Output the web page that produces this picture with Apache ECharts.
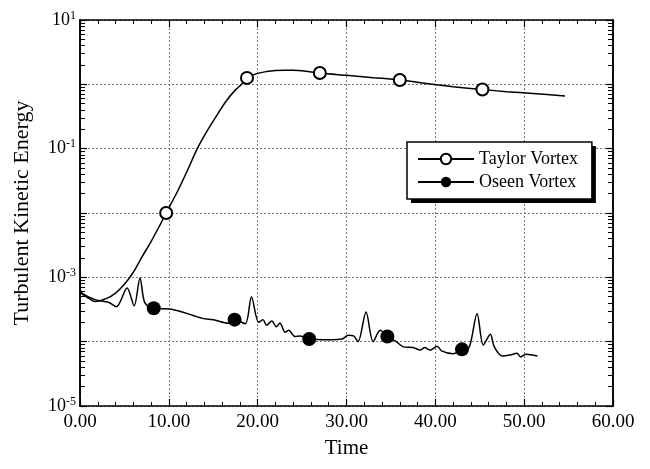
<!DOCTYPE html>
<html>
<head>
<meta charset="utf-8">
<script src="https://cdn.jsdelivr.net/npm/echarts@6/dist/echarts.min.js"></script>
<style>
  html, body { margin: 0; padding: 0; background: #fff; }
  #chart { width: 650px; height: 469px; }
</style>
</head>
<body>
<div id="chart"></div>
<script>
  // [time, energy]
  var taylorPoints = [
    [0, 5.8e-4], [1, 4.7e-4], [1.7, 4.2e-4], [3, 4.7e-4], [4, 5.7e-4], [5, 7.8e-4],
    [6, 1.2e-3], [7, 2.1e-3], [8, 3.6e-3], [9, 6.5e-3], [9.7, 1.0e-2], [11, 2.2e-2],
    [12, 4.3e-2], [13.2, 0.1], [14, 0.16], [15.4, 0.33], [16.5, 0.56], [17.5, 0.82],
    [18.2, 1.0], [18.8, 1.26], [20, 1.48], [21, 1.58], [22, 1.64], [23, 1.66], [24, 1.65],
    [25, 1.62], [27, 1.5], [30, 1.38], [33, 1.27], [36, 1.17], [39, 1.03], [42, 0.92],
    [45.3, 0.83], [48, 0.77], [51, 0.72], [54.6, 0.66]
  ];
  var taylorMarkers = [9.7, 18.8, 27, 36, 45.3];

  var oseenPoints = [
    [0, 6.5e-4], [0.3, 5.6e-4], [1.7, 4.5e-4], [3.2, 4.1e-4], [4.1, 3.5e-4], [5.3, 6.8e-4],
    [6.1, 3.6e-4], [6.75, 9.8e-4], [7.3, 4.0e-4], [8.3, 3.3e-4], [10.3, 3.2e-4], [13.8, 2.3e-4],
    [15, 2.2e-4], [16.7, 1.94e-4], [17.4, 2.2e-4], [18.6, 1.9e-4], [19.3, 5.0e-4], [20.1, 2.0e-4],
    [20.6, 2.2e-4], [21.0, 1.8e-4], [21.6, 2.1e-4], [22.1, 1.7e-4], [22.5, 1.95e-4], [23.1, 1.4e-4],
    [23.5, 1.5e-4], [24.2, 1.2e-4], [24.8, 1.23e-4], [25.8, 1.1e-4], [28, 1.07e-4], [29.5, 1.1e-4],
    [30.2, 1.26e-4], [30.8, 1.23e-4], [31.3, 1.0e-4], [32.2, 2.9e-4], [33.0, 1.0e-4], [33.8, 1.5e-4],
    [34.6, 1.2e-4], [35.6, 1.0e-4], [36.4, 8.3e-5], [37.5, 8.1e-5], [38.3, 7.4e-5], [38.8, 8.1e-5],
    [39.4, 7.4e-5], [40.2, 8.5e-5], [40.7, 7.2e-5], [42.0, 6.5e-5], [43.0, 7.6e-5], [43.8, 8.1e-5],
    [44.7, 2.75e-4], [45.4, 8.9e-5], [46.2, 1.3e-4], [46.6, 8.5e-5], [47.5, 6.0e-5], [48.4, 6.2e-5],
    [49.2, 6.6e-5], [49.6, 5.8e-5], [50.2, 6.4e-5], [51.5, 6.0e-5]
  ];
  var oseenMarkers = [8.3, 17.4, 25.8, 34.6, 43.0];

  var decades = [-5, -4, -3, -2, -1, 0];
  var font = '"Liberation Serif", "DejaVu Serif", serif';

  // 2..9 inside each decade, for the small log ticks
  var minorValues = [];
  decades.forEach(function (d) {
    for (var k = 2; k <= 9; k++) minorValues.push(k * Math.pow(10, d));
  });

  function withMarkers(points, marks) {
    return points.map(function (p) {
      if (marks.indexOf(p[0]) >= 0) return { value: p };
      return { value: p, symbol: 'none' };
    });
  }

  var grey = '#777';

  function yAxisBase(pos) {
    return {
      type: 'log', logBase: 10, min: 1e-5, max: 10, position: pos,
      axisLine: { show: true, onZero: false, lineStyle: { color: '#000', width: 1.5 } },
      axisLabel: { show: false },
      splitLine: { show: false }
    };
  }

  var yMain = yAxisBase('left');
  yMain.interval = 1;
  yMain.name = 'Turbulent Kinetic Energy';
  yMain.nameLocation = 'middle';
  yMain.nameGap = 47;
  yMain.nameTextStyle = { fontFamily: font, fontSize: 22, color: '#000' };
  yMain.axisTick = { inside: true, length: 7, lineStyle: { color: '#000', width: 1.2 } };
  yMain.splitLine = { show: true, lineStyle: { color: grey, type: [2, 2], width: 1 } };
  yMain.axisLabel = {
    show: true, margin: 4, color: '#000',
    formatter: function (v) {
      var e = Math.round(Math.log10(v));
      if (e % 2 === 0) return '';
      return '{b|10}{s|' + e + '}';
    },
    rich: {
      b: { fontFamily: font, fontSize: 18, color: '#000' },
      s: { fontFamily: font, fontSize: 12, color: '#000', padding: [0, 0, 9, 0] }
    }
  };

  var yMinorL = yAxisBase('left');
  yMinorL.axisTick = { inside: true, length: 5, customValues: minorValues, lineStyle: { color: '#000' } };
  var yMajorR = yAxisBase('right');
  yMajorR.interval = 1;
  yMajorR.axisTick = { inside: true, length: 7, lineStyle: { color: '#000', width: 1.2 } };
  var yMinorR = yAxisBase('right');
  yMinorR.axisTick = { inside: true, length: 5, customValues: minorValues, lineStyle: { color: '#000' } };

  var legendBase = {
    orient: 'vertical',
    padding: [8, 14, 8, 10],
    itemGap: 5,
    itemWidth: 56, itemHeight: 13,
    borderWidth: 0,
    textStyle: { fontFamily: font, fontSize: 18, color: '#000' },
    data: ['Taylor Vortex', 'Oseen Vortex']
  };
  // shadow box behind, then the framed legend on top
  var legendShadow = Object.assign({}, legendBase, { left: 411, top: 146, backgroundColor: '#000', z: 4 });
  var legendFront = Object.assign({}, legendBase, {
    left: 407, top: 142, backgroundColor: '#fff', borderColor: '#000', borderWidth: 1.5, z: 6
  });

  var option = {
    animation: false,
    backgroundColor: '#fff',
    grid: { left: 80, right: 37, top: 20, bottom: 63, outerBoundsMode: 'none' },
    legend: [legendShadow, legendFront],
    xAxis: [{
      type: 'value', min: 0, max: 60, interval: 10, position: 'bottom',
      name: 'Time', nameLocation: 'middle', nameGap: 32,
      nameTextStyle: { fontFamily: font, fontSize: 21, color: '#000' },
      axisLine: { onZero: false, lineStyle: { color: '#000', width: 1.5 } },
      axisTick: { inside: true, length: 7, lineStyle: { color: '#000', width: 1.2 } },
      minorTick: { show: true, splitNumber: 5, length: 4, lineStyle: { color: '#000' } },
      axisLabel: {
        fontFamily: font, fontSize: 19, color: '#000', margin: 7,
        formatter: function (v) { return v.toFixed(2); }
      },
      splitLine: { show: true, lineStyle: { color: grey, type: [2, 2], width: 1 } }
    }, {
      type: 'value', min: 0, max: 60, interval: 10, position: 'top',
      axisLine: { show: true, onZero: false, lineStyle: { color: '#000', width: 1.5 } },
      axisTick: { inside: true, length: 7, lineStyle: { color: '#000', width: 1.2 } },
      minorTick: { show: true, splitNumber: 5, length: 4, lineStyle: { color: '#000' } },
      axisLabel: { show: false },
      splitLine: { show: false }
    }],
    yAxis: [yMain, yMinorL, yMajorR, yMinorR],
    series: [{
      name: 'Taylor Vortex', type: 'line', smooth: 0.3,
      symbol: 'emptyCircle', symbolSize: 12, showSymbol: true, showAllSymbol: true,
      itemStyle: { color: '#000', borderColor: '#000', borderWidth: 1.3 },
      lineStyle: { color: '#000', width: 1.5 },
      data: withMarkers(taylorPoints, taylorMarkers),
      z: 3
    }, {
      name: 'Oseen Vortex', type: 'line', smooth: 0.3,
      symbol: 'circle', symbolSize: 14, showSymbol: true, showAllSymbol: true,
      itemStyle: { color: '#000' },
      lineStyle: { color: '#000', width: 1.5 },
      data: withMarkers(oseenPoints, oseenMarkers),
      z: 3
    }]
  };

  var chart = echarts.init(document.getElementById('chart'), null, { renderer: 'canvas' });
  chart.setOption(option);
</script>
</body>
</html>
